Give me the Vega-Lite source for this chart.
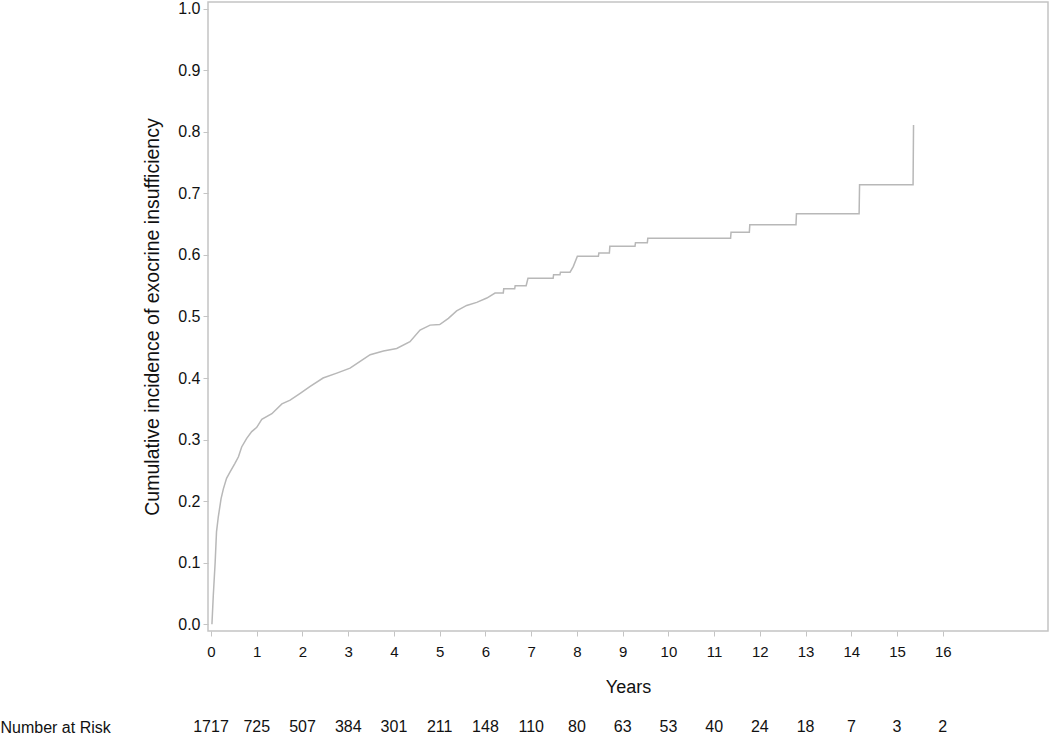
{
  "$schema": "https://vega.github.io/schema/vega-lite/v6.json",
  "padding": 0,
  "background": "white",
  "config": {
    "font": "Liberation Sans",
    "view": {"stroke": "#c4c4c4", "strokeWidth": 1.5},
    "axis": {"grid": false, "domainColor": "#c4c4c4", "tickColor": "#c4c4c4", "labelColor": "#111", "titleColor": "#111", "labelFont": "Liberation Sans", "titleFont": "Liberation Sans", "titleFontWeight": "normal"}
  },
  "spacing": 20,
  "vconcat": [
    {
      "width": 840,
      "height": 629,
      "data": {"values": [
        {"t": 0.02, "v": 0.0}, {"t": 0.05, "v": 0.047}, {"t": 0.09, "v": 0.10}, {"t": 0.12, "v": 0.15},
        {"t": 0.16, "v": 0.175}, {"t": 0.22, "v": 0.204}, {"t": 0.27, "v": 0.22}, {"t": 0.34, "v": 0.237},
        {"t": 0.42, "v": 0.248}, {"t": 0.52, "v": 0.261}, {"t": 0.6, "v": 0.272}, {"t": 0.67, "v": 0.288},
        {"t": 0.78, "v": 0.302}, {"t": 0.89, "v": 0.313}, {"t": 1.0, "v": 0.32}, {"t": 1.11, "v": 0.333},
        {"t": 1.33, "v": 0.342}, {"t": 1.55, "v": 0.358}, {"t": 1.73, "v": 0.364}, {"t": 1.95, "v": 0.375},
        {"t": 2.16, "v": 0.386}, {"t": 2.45, "v": 0.40}, {"t": 2.75, "v": 0.408}, {"t": 3.04, "v": 0.416},
        {"t": 3.26, "v": 0.427}, {"t": 3.48, "v": 0.438}, {"t": 3.77, "v": 0.444}, {"t": 4.06, "v": 0.448},
        {"t": 4.35, "v": 0.459}, {"t": 4.57, "v": 0.478}, {"t": 4.79, "v": 0.486}, {"t": 5.0, "v": 0.487},
        {"t": 5.19, "v": 0.497}, {"t": 5.37, "v": 0.509}, {"t": 5.59, "v": 0.518}, {"t": 5.81, "v": 0.523},
        {"t": 6.03, "v": 0.53}, {"t": 6.21, "v": 0.538}, {"t": 6.39, "v": 0.538}, {"t": 6.40, "v": 0.545},
        {"t": 6.64, "v": 0.545}, {"t": 6.65, "v": 0.55}, {"t": 6.89, "v": 0.55}, {"t": 6.93, "v": 0.562},
        {"t": 7.48, "v": 0.562}, {"t": 7.49, "v": 0.568}, {"t": 7.63, "v": 0.568}, {"t": 7.64, "v": 0.572},
        {"t": 7.85, "v": 0.572}, {"t": 7.92, "v": 0.581}, {"t": 8.01, "v": 0.598}, {"t": 8.47, "v": 0.598},
        {"t": 8.48, "v": 0.603}, {"t": 8.71, "v": 0.603}, {"t": 8.72, "v": 0.614}, {"t": 9.27, "v": 0.614},
        {"t": 9.28, "v": 0.620}, {"t": 9.54, "v": 0.620}, {"t": 9.55, "v": 0.627}, {"t": 11.36, "v": 0.627},
        {"t": 11.37, "v": 0.637}, {"t": 11.77, "v": 0.637}, {"t": 11.78, "v": 0.649}, {"t": 12.79, "v": 0.649},
        {"t": 12.80, "v": 0.667}, {"t": 14.17, "v": 0.667}, {"t": 14.18, "v": 0.714}, {"t": 15.35, "v": 0.714},
        {"t": 15.36, "v": 0.811}
      ]},
      "mark": {"type": "line", "color": "#b8b8b8", "strokeWidth": 1.5},
      "encoding": {
        "x": {"field": "t", "type": "quantitative",
              "scale": {"domain": [-0.066, 18.3], "nice": false, "zero": false},
              "axis": {"title": "Years", "values": [0,1,2,3,4,5,6,7,8,9,10,11,12,13,14,15,16], "format": "d",
                       "labelFontSize": 15, "titleFontSize": 18, "tickSize": 5, "labelPadding": 8, "titlePadding": 19, "domain": false}},
        "y": {"field": "v", "type": "quantitative",
              "scale": {"domain": [-0.011, 1.011], "nice": false, "zero": false},
              "axis": {"title": "Cumulative incidence of exocrine insufficiency", "values": [0,0.1,0.2,0.3,0.4,0.5,0.6,0.7,0.8,0.9,1.0], "format": ".1f",
                       "labelFontSize": 16, "titleFontSize": 19.5, "tickSize": 5, "labelPadding": 3, "titlePadding": 15, "domain": false}}
      }
    },
    {
      "width": 840,
      "height": 20,
      "view": {"stroke": null},
      "data": {"values": [
        {"t": 0, "n": "1717", "row": "Number at Risk"}, {"t": 1, "n": "725", "row": "Number at Risk"},
        {"t": 2, "n": "507", "row": "Number at Risk"}, {"t": 3, "n": "384", "row": "Number at Risk"},
        {"t": 4, "n": "301", "row": "Number at Risk"}, {"t": 5, "n": "211", "row": "Number at Risk"},
        {"t": 6, "n": "148", "row": "Number at Risk"}, {"t": 7, "n": "110", "row": "Number at Risk"},
        {"t": 8, "n": "80", "row": "Number at Risk"}, {"t": 9, "n": "63", "row": "Number at Risk"},
        {"t": 10, "n": "53", "row": "Number at Risk"}, {"t": 11, "n": "40", "row": "Number at Risk"},
        {"t": 12, "n": "24", "row": "Number at Risk"}, {"t": 13, "n": "18", "row": "Number at Risk"},
        {"t": 14, "n": "7", "row": "Number at Risk"}, {"t": 15, "n": "3", "row": "Number at Risk"},
        {"t": 16, "n": "2", "row": "Number at Risk"}
      ]},
      "mark": {"type": "text", "fontSize": 16, "color": "#111", "font": "Liberation Sans"},
      "encoding": {
        "x": {"field": "t", "type": "quantitative", "scale": {"domain": [-0.066, 18.3], "nice": false, "zero": false}, "axis": null},
        "y": {"field": "row", "type": "nominal",
              "axis": {"title": null, "ticks": false, "domain": false, "labelAlign": "left", "labelPadding": 208, "labelFontSize": 16}},
        "text": {"field": "n"}
      }
    }
  ]
}
